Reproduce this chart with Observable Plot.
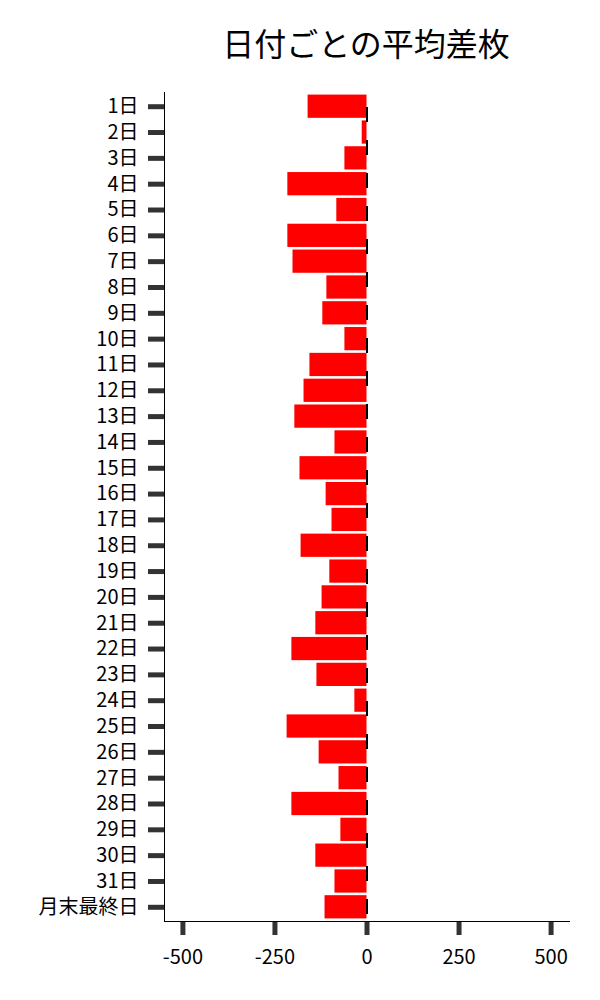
<!DOCTYPE html>
<html><head><meta charset="utf-8">
<script src="https://cdn.jsdelivr.net/npm/d3@7"></script>
<script src="https://cdn.jsdelivr.net/npm/@observablehq/plot@0.6"></script>
<style>
body{margin:0;background:#fff;font-family:"Noto Sans CJK JP",sans-serif;}
#title{height:70px;line-height:84px;font-size:32px;text-align:center;margin-left:132px;width:468px;color:#000;}
</style></head>
<body>
<div id="title">日付ごとの平均差枚</div>
<div id="chart"></div>
<script>
const days = ["1日","2日","3日","4日","5日","6日","7日","8日","9日","10日","11日","12日","13日","14日","15日","16日","17日","18日","19日","20日","21日","22日","23日","24日","25日","26日","27日","28日","29日","30日","31日","月末最終日"];
const avgDiff = [-160,-13,-60,-215,-82,-215,-201,-109,-120,-60,-155,-171,-196,-87,-182,-111,-95,-179,-101,-122,-139,-204,-136,-33,-217,-130,-76,-204,-71,-139,-87,-114];
const xTicks = [-500,-250,0,250,500];
const data = days.map((d,i)=>({day:d, value:avgDiff[i]}));
const chart = Plot.plot({
  width:600, height:930,
  marginLeft:164, marginRight:31, marginTop:22, marginBottom:79,
  style:{fontFamily:'"Noto Sans CJK JP",sans-serif', fontSize:"20px", color:"#000", background:"#fff"},
  x:{domain:[-550,550]},
  y:{domain:days, padding:0.1, round:false},
  marks:[
    Plot.barX(data,{x:"value", y:"day", fill:"#ff0000"}),
    Plot.ruleX([0],{stroke:"#000", strokeWidth:2, strokeDasharray:"15,18", strokeDashoffset:18}),
    Plot.axisY({tickSize:16, tickPadding:10, stroke:"#333", strokeWidth:5, fontSize:20, label:null}),
    Plot.axisX({ticks:xTicks, tickSize:14, tickPadding:14, stroke:"#333", strokeWidth:5, fontSize:20, label:null, tickFormat:d=>String(d)}),
    Plot.frame({anchor:"left", stroke:"#000", strokeWidth:1}),
    Plot.frame({anchor:"bottom", stroke:"#000", strokeWidth:1})
  ]
});
document.getElementById("chart").appendChild(chart);
</script>
</body></html>
